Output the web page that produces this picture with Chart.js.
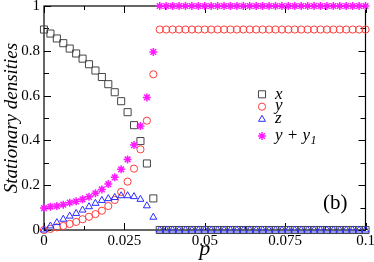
<!DOCTYPE html>
<html>
<head>
<meta charset="utf-8">
<script src="https://cdn.jsdelivr.net/npm/chart.js@4/dist/chart.umd.min.js"></script>
<style>
  html, body { margin: 0; padding: 0; background: #fff; }
  #wrap { width: 374px; height: 262px; }
</style>
</head>
<body>
<div id="wrap"><canvas id="chart" width="374" height="262"></canvas></div>
<script>
// valores
const pValues = [0, 0.002, 0.004, 0.006, 0.008, 0.010, 0.012, 0.014, 0.016, 0.018,
  0.020, 0.022, 0.024, 0.026, 0.028, 0.030, 0.032, 0.034, 0.036, 0.038,
  0.040, 0.042, 0.044, 0.046, 0.048, 0.050, 0.052, 0.054, 0.056, 0.058,
  0.060, 0.062, 0.064, 0.066, 0.068, 0.070, 0.072, 0.074, 0.076, 0.078,
  0.080, 0.082, 0.084, 0.086, 0.088, 0.090, 0.092, 0.094, 0.096, 0.098, 0.100];

const xValues = [0.895, 0.877, 0.855, 0.834, 0.81, 0.788, 0.765, 0.74, 0.712, 0.683,
  0.651, 0.615, 0.575, 0.526, 0.468, 0.397, 0.297, 0.141, 0, 0,
  0, 0, 0, 0, 0, 0, 0, 0, 0, 0,
  0, 0, 0, 0, 0, 0, 0, 0, 0, 0,
  0, 0, 0, 0, 0, 0, 0, 0, 0, 0, 0];

const yValues = [0, 0.005, 0.012, 0.018, 0.027, 0.036, 0.048, 0.059, 0.071, 0.086,
  0.107, 0.134, 0.17, 0.216, 0.274, 0.36, 0.488, 0.695, 0.895, 0.895,
  0.895, 0.895, 0.895, 0.895, 0.895, 0.895, 0.895, 0.895, 0.895, 0.895,
  0.895, 0.895, 0.895, 0.895, 0.895, 0.895, 0.895, 0.895, 0.895, 0.895,
  0.895, 0.895, 0.895, 0.895, 0.895, 0.895, 0.895, 0.895, 0.895, 0.895, 0.895];

const zValues = [0, 0.018, 0.033, 0.048, 0.062, 0.074, 0.089, 0.104, 0.119, 0.132,
  0.14, 0.145, 0.153, 0.153, 0.149, 0.137, 0.108, 0.057, 0, 0,
  0, 0, 0, 0, 0, 0, 0, 0, 0, 0,
  0, 0, 0, 0, 0, 0, 0, 0, 0, 0,
  0, 0, 0, 0, 0, 0, 0, 0, 0, 0, 0];

const yy1Values = [0.098, 0.104, 0.107, 0.113, 0.122, 0.128, 0.137, 0.148, 0.164, 0.181,
  0.205, 0.235, 0.271, 0.315, 0.379, 0.464, 0.592, 0.795, 1, 1,
  1, 1, 1, 1, 1, 1, 1, 1, 1, 1,
  1, 1, 1, 1, 1, 1, 1, 1, 1, 1,
  1, 1, 1, 1, 1, 1, 1, 1, 1, 1, 1];

const xTicks = [0, 0.025, 0.05, 0.075, 0.1];
const xTickLabels = ["0", "0.025", "0.05", "0.075", "0.1"];
const yTicks = [0, 0.2, 0.4, 0.6, 0.8, 1];
const yTickLabels = ["0", "0.2", "0.4", "0.6", "0.8", "1"];
const xMinor = [0.0125, 0.0375, 0.0625, 0.0875];
const yMinor = [0.1, 0.3, 0.5, 0.7, 0.9];

const serif = "'Liberation Serif', 'Times New Roman', serif";
Chart.defaults.font.family = serif;
Chart.defaults.color = "#000";

const toPts = vals => pValues.map((p, i) => ({ x: p, y: vals[i] }));

// marco con ticks hacia adentro
const framePlugin = {
  id: "frame",
  beforeDatasetsDraw(chart) {
    const { ctx, chartArea: a, scales } = chart;
    ctx.save();
    ctx.strokeStyle = "#000";
    ctx.lineWidth = 1.2;
    ctx.strokeRect(a.left, a.top, a.right - a.left, a.bottom - a.top);
    ctx.lineWidth = 1;
    const tick = (vals, len, horiz) => {
      vals.forEach(v => {
        ctx.beginPath();
        if (horiz) {
          const px = Math.round(scales.x.getPixelForValue(v)) + 0.5;
          ctx.moveTo(px, a.bottom); ctx.lineTo(px, a.bottom - len);
          ctx.moveTo(px, a.top); ctx.lineTo(px, a.top + len);
        } else {
          const py = Math.round(scales.y.getPixelForValue(v)) + 0.5;
          ctx.moveTo(a.left, py); ctx.lineTo(a.left + len, py);
          ctx.moveTo(a.right, py); ctx.lineTo(a.right - len, py);
        }
        ctx.stroke();
      });
    };
    tick(xTicks, 7, true);
    tick(xMinor, 4, true);
    tick(yTicks, 7, false);
    tick(yMinor, 5, false);
    ctx.restore();
  }
};

// leyenda y etiqueta (b)
const legendPlugin = {
  id: "customLegend",
  afterDraw(chart) {
    const { ctx } = chart;
    const rows = [
      { ds: 0, cy: 94.3, base: 98.5, text: "x" },
      { ds: 1, cy: 106.7, base: 109.5, text: "y" },
      { ds: 2, cy: 119.3, base: 123, text: "z" },
      { ds: 3, cy: 136, base: 140, text: "y + y" }
    ];
    ctx.save();
    rows.forEach(r => {
      const d = chart.data.datasets[r.ds];
      ctx.strokeStyle = d.borderColor;
      ctx.fillStyle = "rgba(0,0,0,0)";
      ctx.lineWidth = d.borderWidth;
      Chart.helpers.drawPoint(ctx, { pointStyle: d.pointStyle, radius: d.pointRadius, rotation: 0, borderWidth: d.borderWidth }, 262, r.cy);
      ctx.fillStyle = "#000";
      ctx.font = "italic 17px " + serif;
      ctx.textBaseline = "alphabetic";
      ctx.textAlign = "left";
      ctx.fillText(r.text, 275, r.base);
      if (r.ds === 3) {
        const w = ctx.measureText(r.text).width;
        ctx.font = "italic 12px " + serif;
        ctx.fillText("1", 275 + w + 0.5, r.base + 4);
      }
    });
    ctx.font = "21px " + serif;
    ctx.fillText("(b)", 323, 209);
    ctx.restore();
  }
};

new Chart(document.getElementById("chart"), {
  type: "scatter",
  data: {
    datasets: [
      { label: "x", data: toPts(xValues), pointStyle: "rect", pointRadius: 5, borderColor: "#444", backgroundColor: "rgba(0,0,0,0)", borderWidth: 1, order: 4, clip: false },
      { label: "y", data: toPts(yValues), pointStyle: "circle", pointRadius: 3.6, borderColor: "#ff3b3b", backgroundColor: "rgba(0,0,0,0)", borderWidth: 1, order: 3, clip: false },
      { label: "z", data: toPts(zValues), pointStyle: "triangle", pointRadius: 4, borderColor: "#2a2aff", backgroundColor: "rgba(0,0,0,0)", borderWidth: 1, order: 2, clip: false },
      { label: "y + y1", data: toPts(yy1Values), pointStyle: "star", pointRadius: 4, borderColor: "#ff1aff", backgroundColor: "rgba(0,0,0,0)", borderWidth: 1.5, order: 1, clip: false }
    ]
  },
  options: {
    responsive: false,
    animation: false,
    devicePixelRatio: 1,
    layout: { padding: { top: 6, right: 8.5, left: 0, bottom: 0 } },
    plugins: { legend: { display: false }, tooltip: { enabled: false } },
    scales: {
      x: {
        type: "linear", min: 0, max: 0.1,
        afterBuildTicks: s => { s.ticks = xTicks.map(v => ({ value: v })); },
        afterFit: s => { s.height = 32; s.paddingLeft = 0; s.paddingRight = 0; },
        ticks: { callback: (v, i) => xTickLabels[i], font: { size: 15 }, padding: 2, maxRotation: 0, autoSkip: false },
        grid: { display: false, drawTicks: false },
        border: { display: false },
        title: { display: true, text: "p", font: { size: 22, style: "italic" }, padding: 0 }
      },
      y: {
        type: "linear", min: 0, max: 1,
        afterBuildTicks: s => { s.ticks = yTicks.map(v => ({ value: v })); },
        afterFit: s => { s.width = 44; s.paddingTop = 0; s.paddingBottom = 0; },
        ticks: { callback: (v, i) => yTickLabels[i], font: { size: 15 }, padding: 4, autoSkip: false },
        grid: { display: false, drawTicks: false },
        border: { display: false },
        title: { display: true, text: "Stationary densities", font: { size: 19, style: "italic" }, padding: { top: 1, bottom: 0 } }
      }
    }
  },
  plugins: [framePlugin, legendPlugin]
});
</script>
</body>
</html>
